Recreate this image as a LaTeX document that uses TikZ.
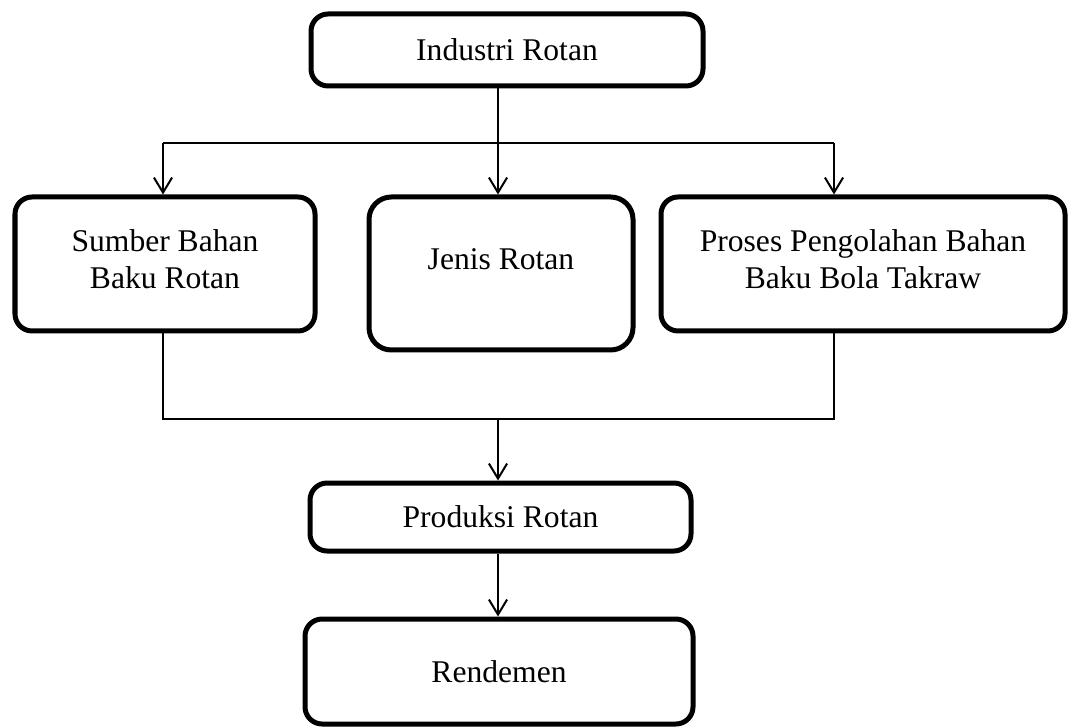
\documentclass[tikz,border=0pt]{standalone}
\usepackage{fontspec}
\setmainfont{Liberation Serif}
\usetikzlibrary{arrows.meta}

% one pixel of the layout grid
\newcommand{\unitpx}{0.01335cm}

\tikzset{
  box/.style={draw, line width=1.9pt, rounded corners=6.5pt, inner sep=0pt,
    align=center, font=\fontsize{12}{14}\selectfont},
  link/.style={line width=0.76pt},
  arrow/.style={link, -{Straight Barb[length=5.7pt, width=6.9pt]}}
}

\begin{document}
\begin{tikzpicture}[x=\unitpx, y=-\unitpx]
  \useasboundingbox (0,0) rectangle (1072,727);

  % Boxes
  \node[box, minimum width=392*\unitpx, minimum height=72*\unitpx] (industri) at (507,50) {Industri Rotan};
  \node[box, minimum width=300*\unitpx, minimum height=134*\unitpx, text depth=10*\unitpx] (sumber) at (165,264) {Sumber Bahan\\Baku Rotan};
  \node[box, rounded corners=8.5pt, minimum width=264*\unitpx, minimum height=153*\unitpx,
    text depth=29*\unitpx] (jenis) at (501,273.5) {Jenis Rotan};
  \node[box, minimum width=404*\unitpx, minimum height=134*\unitpx, text depth=10*\unitpx] (proses) at (863,264) {Proses Pengolahan Bahan\\Baku Bola Takraw};
  \node[box, minimum width=381*\unitpx, minimum height=68*\unitpx] (produksi) at (500.5,517) {Produksi Rotan};
  \node[box, minimum width=388*\unitpx, minimum height=105*\unitpx] (rendemen) at (499,671.5) {Rendemen};

  % Branch points
  \coordinate (splitTop) at (498,143);
  \coordinate (branchL) at (163,143);
  \coordinate (branchR) at (834,143);
  \coordinate (joinBot) at (498,419);
  \coordinate (joinL) at (163,419);
  \coordinate (joinR) at (834,419);

  % Upper connectors
  \draw[link] (industri.south -| splitTop) -- (splitTop);
  \draw[link] (branchL) -- (branchR);
  \draw[arrow] (splitTop) -- (splitTop |- jenis.north);
  \draw[arrow] (branchL) -- (branchL |- sumber.north);
  \draw[arrow] (branchR) -- (branchR |- proses.north);

  % Lower connectors
  \draw[link] (sumber.south -| joinL) -- (joinL) -- (joinR) -- (proses.south -| joinR);
  \draw[arrow] (joinBot) -- (joinBot |- produksi.north);
  \draw[arrow] (produksi.south -| joinBot) -- (joinBot |- rendemen.north);
\end{tikzpicture}
\end{document}
